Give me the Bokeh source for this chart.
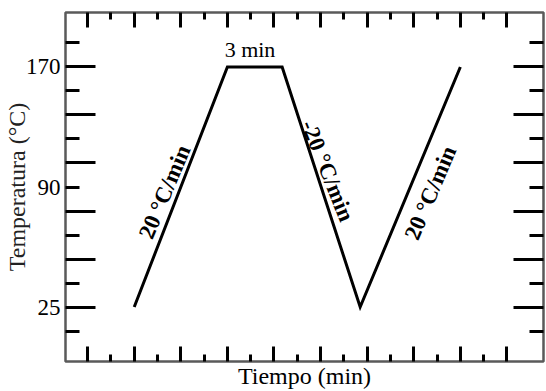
from bokeh.plotting import figure
from bokeh.models import LinearAxis, FixedTicker, Range1d
from bokeh.core.properties import value
from bokeh.embed import file_html
from bokeh.resources import INLINE

# ---- data (schematic thermal program) ----
time_min = [4, 8, 10.35, 13.7, 18]          # x positions of the profile vertices
temp_c = [25, 170, 170, 25, 170]             # temperatures (°C)

# tick layout (the reference axis is schematic: evenly spaced marks)
x_major = [2, 4, 6, 8, 10, 12, 14, 16, 18, 20]
x_minor = [3, 5, 7, 9, 11, 13, 15, 17, 19]
y_major = [25, 54, 83, 112, 141, 170]
y_minor = [10.5, 39.5, 68.5, 97.5, 126.5, 155.5, 184.5]
y_label_pos = [25, 97.5, 170]
y_label_txt = ["25", "90", "170"]

ann_text = ["20 °C/min", "-20 °C/min", "20 °C/min"]
ann_x = [5.31, 12.3, 16.72]
ann_y = [94.5, 107.3, 93.9]
ann_angle = [1.17, -1.19, 1.17]

SERIF = "Liberation Serif"

p = figure(width=546, height=391, output_backend="svg", toolbar_location=None,
           x_range=Range1d(1.05, 21.57), y_range=Range1d(-7.9, 202.9),
           min_border_left=0, min_border_right=3, min_border_top=12, min_border_bottom=0)
p.xgrid.visible = False
p.ygrid.visible = False
p.outline_line_color = "#5a5a5a"
p.outline_line_width = 2.5
p.background_fill_color = "white"
p.border_fill_color = "white"


def tick_style(ax, maj_len, min_len):
    ax.major_tick_in = maj_len
    ax.major_tick_out = 0
    ax.minor_tick_in = min_len
    ax.minor_tick_out = 0
    ax.major_tick_line_width = 3
    ax.minor_tick_line_width = 3
    ax.major_tick_line_color = "black"
    ax.minor_tick_line_color = "black"
    ax.axis_line_color = None
    ax.major_label_text_font_size = "0px"
    ax.major_label_text_color = None
    ax.major_label_standoff = 0


# bottom axis
xb = p.xaxis[0]
xb.ticker = FixedTicker(ticks=x_major, minor_ticks=x_minor)
tick_style(xb, 15, 7)
xb.axis_label = "Tiempo (min)"
xb.axis_label_text_font = SERIF
xb.axis_label_text_font_size = "24px"
xb.axis_label_text_font_style = "normal"
xb.axis_label_text_color = "black"
xb.axis_label_standoff = 1

# top axis
xt = LinearAxis(ticker=FixedTicker(ticks=x_major, minor_ticks=x_minor))
tick_style(xt, 15, 7)
p.add_layout(xt, "above")

# left tick axis (inner)
yl = p.yaxis[0]
yl.ticker = FixedTicker(ticks=y_major, minor_ticks=y_minor)
tick_style(yl, 30, 14)

# right tick axis
yr = LinearAxis(ticker=FixedTicker(ticks=y_major, minor_ticks=y_minor))
tick_style(yr, 30, 14)
p.add_layout(yr, "right")

# left label axis (outer)
ylab = LinearAxis(ticker=FixedTicker(ticks=y_label_pos, minor_ticks=[]),
                  major_label_overrides={v: t for v, t in zip(y_label_pos, y_label_txt)})
ylab.major_tick_in = 0
ylab.major_tick_out = 0
ylab.minor_tick_in = 0
ylab.minor_tick_out = 0
ylab.axis_line_color = None
ylab.major_tick_line_color = None
ylab.major_label_text_font = SERIF
ylab.major_label_text_font_size = "23px"
ylab.major_label_text_color = "black"
ylab.major_label_standoff = 5
ylab.axis_label = "Temperatura (°C)"
ylab.axis_label_text_font = SERIF
ylab.axis_label_text_font_size = "24px"
ylab.axis_label_text_font_style = "normal"
ylab.axis_label_text_color = "#222222"
ylab.axis_label_standoff = -7
p.add_layout(ylab, "left")

# profile line
p.line(time_min, temp_c, line_width=3, color="black", line_join="miter")

# rate annotations
p.text(x=ann_x, y=ann_y, text=ann_text, angle=ann_angle,
       text_font=value(SERIF), text_font_style="bold", text_font_size="23px",
       text_align="center", text_baseline="middle", text_color="black")

# hold annotation
p.text(x=[8.97], y=[180.5], text=["3 min"],
       text_font=value(SERIF), text_font_size="22px",
       text_align="center", text_baseline="middle", text_color="black")

open("out.html", "w").write(file_html(p, INLINE))
